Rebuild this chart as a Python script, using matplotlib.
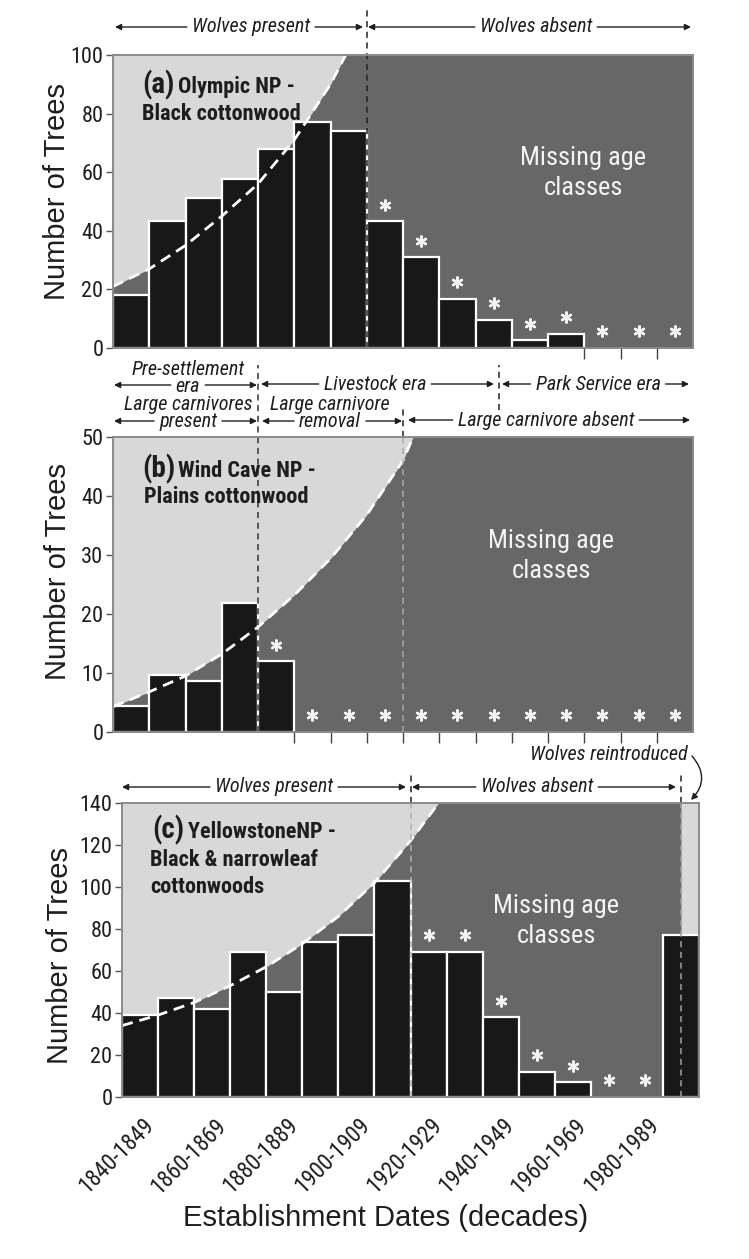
import matplotlib
matplotlib.use('Agg')
import matplotlib.pyplot as plt
from matplotlib.patches import FancyArrowPatch
from matplotlib.transforms import blended_transform_factory, offset_copy, ScaledTranslation

# --- data ---------------------------------------------------------------
decades = ['1840-1849', '1850-1859', '1860-1869', '1870-1879', '1880-1889',
           '1890-1899', '1900-1909', '1910-1919', '1920-1929', '1930-1939',
           '1940-1949', '1950-1959', '1960-1969', '1970-1979', '1980-1989',
           '1990-1999']

# (a) Olympic NP
olympic_trees = [18.2, 43.2, 51.1, 57.7, 67.9, 77.3, 74.2, 43.2,
                 31.0, 16.7, 9.6, 2.6, 4.8, 0, 0, 0]
olympic_stars = [7, 8, 9, 10, 11, 12, 13, 14, 15]
olympic_env_x = [0, 1, 2, 3, 4, 5, 6, 6.42]
olympic_env_y = [21, 27, 35, 45, 56, 71, 90, 100]

# (b) Wind Cave NP
windcave_trees = [4.4, 9.6, 8.7, 21.8, 12.0, 0, 0, 0,
                  0, 0, 0, 0, 0, 0, 0, 0]
windcave_stars = [4, 5, 6, 7, 8, 9, 10, 11, 12, 13, 14, 15]
windcave_env_x = [0, 1, 2, 3, 4, 5, 6, 7, 8, 8.28]
windcave_env_y = [4.3, 6.8, 9.5, 13.2, 17.8, 23.2, 29.4, 36.8, 46, 50]

# (c) Yellowstone NP
yellowstone_trees = [39, 47, 42, 69, 50, 74, 77, 103,
                     69, 69, 38, 12, 7, 0, 0, 77]
yellowstone_stars = [8, 9, 10, 11, 12, 13, 14]
yellowstone_env_x = [0, 1, 2, 3, 4, 5, 6, 7, 8, 8.78]
yellowstone_env_y = [34, 39, 45, 53, 62, 73, 86, 102, 122, 140]

# --- style ---------------------------------------------------------------
W, H = 749, 1259
LIGHT = '#d8d8d8'
DARK = '#676767'
BAR = '#181818'
INK = '#1e1e1e'
NARROW = ['Roboto Condensed', 'DejaVu Sans']
REG = ['Liberation Sans', 'DejaVu Sans']
HEAD_SIZE = 14.5
plt.rcParams['font.family'] = NARROW
plt.rcParams['font.stretch'] = 'condensed'

fig = plt.figure(figsize=(W / 100, H / 100), dpi=100)
renderer = fig.canvas.get_renderer()


def box(l, t, r, b):
    return [l / W, 1 - b / H, (r - l) / W, (b - t) / H]


def ftext(x, y, s, **kw):
    return fig.text(x / W, 1 - y / H, s, **kw)


def half_arrow(x_from, x_to, y):
    fig.add_artist(FancyArrowPatch((x_from / W, 1 - y / H), (x_to / W, 1 - y / H),
                                   transform=fig.transFigure, arrowstyle='-|>',
                                   mutation_scale=9, lw=1, color=INK,
                                   shrinkA=0, shrinkB=0))


def span(x0, x1, y, s, xc, top=None, base=None):
    # arrow from x0 to x1 at height y, broken around the (bottom) text line
    kw = dict(ha='center', style='italic', fontsize=HEAD_SIZE, color=INK)
    if top is None:
        t = ftext(xc, y, s, va='center', **kw)
        bb = t.get_window_extent(renderer)
    else:
        # base = baseline of the lower line
        ftext(xc, base, top + '\n' + s, va='baseline', linespacing=0.85, **kw)
        tmp = ftext(xc, y, s, va='center', **kw)
        bb = tmp.get_window_extent(renderer)
        tmp.remove()
    gap = 5
    half_arrow(bb.x0 - gap, x0, y)
    half_arrow(bb.x1 + gap, x1, y)


def vdash(ax, x, y0, y1, color):
    tr = blended_transform_factory(ax.transData, ax.transAxes)
    ax.plot([x, x], [y0, y1], transform=tr, clip_on=False, color=color,
            ls=(0, (4, 3)), lw=1.1, zorder=3.5)


def panel(ax, trees, stars, env_x, env_y, ymax, ystep, dark_to):
    ax.set_xlim(0, 16)
    ax.set_ylim(0, ymax)
    ax.set_facecolor(LIGHT)
    ax.fill_between(env_x + [dark_to], 0, env_y + [ymax], color=DARK, lw=0, zorder=1)
    xs = [i for i, v in enumerate(trees) if v > 0]
    ax.bar(xs, [trees[i] for i in xs], width=1, align='edge', color=BAR,
           edgecolor='white', lw=1.6, zorder=2)
    ax.plot(env_x, env_y, color='white', lw=2, ls=(0, (4, 2.5)), zorder=3)
    tr = offset_copy(ax.transData, fig=fig, y=12, units='points')
    ax.plot([i + 0.5 for i in stars], [trees[i] for i in stars], ls='none',
            marker=(6, 2, 0), ms=8.5, mew=1.7, color='#f2f2f2', transform=tr,
            zorder=4, clip_on=False)
    ax.set_yticks(range(0, ymax + 1, ystep))
    ax.tick_params(axis='y', labelsize=16, length=5, width=1, color='#555',
                   labelcolor=INK, pad=2)
    empty = [i for i in range(1, 16) if trees[i] == 0]
    ax.set_xticks(empty)
    ax.set_xticklabels([])
    ax.tick_params(axis='x', length=8, width=1, color='#444')
    for s in ax.spines.values():
        s.set_color('#8a8a8a')
        s.set_linewidth(1.4)
        s.set_zorder(5)


ax_a = fig.add_axes(box(113, 55, 693, 348))
ax_b = fig.add_axes(box(113, 437, 693, 732))
ax_c = fig.add_axes(box(122, 803, 699, 1097))

panel(ax_a, olympic_trees, olympic_stars, olympic_env_x, olympic_env_y, 100, 20, 16)
panel(ax_b, windcave_trees, windcave_stars, windcave_env_x, windcave_env_y, 50, 10, 16)
panel(ax_c, yellowstone_trees, yellowstone_stars, yellowstone_env_x, yellowstone_env_y,
      140, 20, 15.5)

# x labels on the bottom panel
ax_c.set_xticks([i + 0.5 for i in range(0, 16, 2)])
ax_c.set_xticklabels(decades[0:16:2], rotation=45, ha='right', va='center',
                     rotation_mode='anchor', fontsize=16.5, color=INK)
ax_c.tick_params(axis='x', length=0, pad=18)
shift = ScaledTranslation(10 / 100, 0, fig.dpi_scale_trans)
for t in ax_c.get_xticklabels():
    t.set_transform(t.get_transform() + shift)

# dashed period lines
vdash(ax_a, 7, 0, 1.153, '#222')
vdash(ax_b, 4, 0, 1.244, '#333')
vdash(ax_b, 8, 0, 1, '#a8a8a8')
vdash(ax_b, 8, 1, 1.103, '#222')
vdash(ax_b, 10.66, 1.092, 1.244, '#222')
vdash(ax_c, 8, 0, 1, '#b0b0b0')
vdash(ax_c, 8, 1, 1.107, '#222')
vdash(ax_c, 15.5, 0, 1, '#a0a0a0')
vdash(ax_c, 15.5, 1, 1.107, '#222')

# period headers (pixel positions measured on the reference)
span(115, 363, 27, 'Wolves present', 251)
span(368, 691, 27, 'Wolves absent', 536)

span(114, 257, 385, 'era', 188, top='Pre-settlement', base=392)
span(261, 494, 384, 'Livestock era', 375)
span(502, 689, 384, 'Park Service era', 598)

span(114, 257, 421, 'present', 188, top='Large carnivores', base=427)
span(262, 402, 421, 'removal', 330, top='Large carnivore', base=427)
span(408, 690, 420, 'Large carnivore absent', 546)

span(122, 406, 787, 'Wolves present', 274)
span(412, 676, 787, 'Wolves absent', 537)
ftext(688, 755, 'Wolves reintroduced', ha='right', va='center', style='italic',
      fontsize=HEAD_SIZE, color=INK)
fig.add_artist(FancyArrowPatch((692 / W, 1 - 756 / H), (691 / W, 1 - 800 / H),
                               transform=fig.transFigure, arrowstyle='-|>',
                               connectionstyle='arc3,rad=-0.45', mutation_scale=9,
                               lw=1, color=INK, shrinkA=0, shrinkB=0))

# panel titles
title_kw = dict(fontweight='bold', color=INK, va='baseline')
ftext(175, 93, '(a)', fontsize=21, ha='right', **title_kw)
ftext(178, 93, 'Olympic NP -', fontsize=16, **title_kw)
ftext(142, 120, 'Black cottonwood', fontsize=16, **title_kw)

ftext(176, 477, '(b)', fontsize=21, ha='right', **title_kw)
ftext(178, 477, 'Wind Cave NP -', fontsize=16, **title_kw)
ftext(144, 503, 'Plains cottonwood', fontsize=16, **title_kw)

ftext(184, 838, '(c)', fontsize=21, ha='right', **title_kw)
ftext(188, 838, 'YellowstoneNP -', fontsize=16, **title_kw)
ftext(150, 866, 'Black & narrowleaf', fontsize=16, **title_kw)
ftext(150, 893, 'cottonwoods', fontsize=16, **title_kw)

for x, y in [(583, 173), (551, 556), (556, 921)]:
    ftext(x, y, 'Missing age\nclasses', ha='center', va='center', fontsize=19,
          color='#f4f4f4', linespacing=1.3)

# axis labels
for x, y in [(57, 192), (58, 571), (60, 955)]:
    ftext(x, y, 'Number of Trees', rotation=90, ha='center', va='center',
          fontsize=21, color=INK, family=REG, stretch='normal')
ftext(386, 1218, 'Establishment Dates (decades)', ha='center', va='center',
      fontsize=21, color=INK, family=REG, stretch='normal')

fig.savefig('out.png', dpi=100, facecolor='white')
